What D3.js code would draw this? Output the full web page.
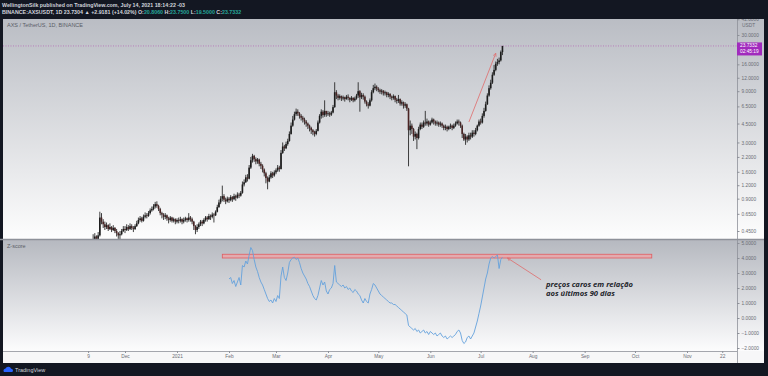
<!DOCTYPE html>
<html>
<head>
<meta charset="utf-8">
<script src="https://cdn.jsdelivr.net/npm/d3@7"></script>
<style>
  html, body { margin: 0; padding: 0; background: #131722; overflow: hidden; }
  svg { display: block; font-family: "Liberation Sans", Arial, sans-serif; }
</style>
</head>
<body>
<div id="container"></div>
<script>
// AXS/USDT daily candles, 2020-11-04 .. 2021-07-14
const firstDay = "2020-11-04";
const firstOpen = 0.33;

const closes = [
  // Nov
  0.30,0.27,0.26,0.28,0.29,0.31,0.33,0.34,0.36,0.40,0.38,0.41,0.60,0.55,0.52,0.49,0.51,0.47,0.49,0.46,0.48,0.45,0.43,0.41,0.42,0.45,0.47,
  // Dec
  0.46,0.49,0.47,0.50,0.48,0.47,0.50,0.53,0.57,0.59,0.56,0.61,0.63,0.62,0.66,0.70,0.72,0.76,0.80,0.77,0.72,0.66,0.64,0.61,0.63,0.59,0.57,0.60,0.56,0.58,0.55,
  // Jan
  0.57,0.56,0.58,0.55,0.57,0.59,0.57,0.60,0.58,0.55,0.50,0.46,0.49,0.52,0.55,0.53,0.57,0.60,0.58,0.62,0.61,0.64,0.63,0.68,0.75,0.83,0.90,0.95,0.88,0.85,0.90,
  // Feb
  0.87,0.93,0.89,0.95,0.92,0.98,0.96,1.02,1.22,1.28,1.42,1.38,1.75,2.05,2.25,2.10,2.00,2.08,1.90,1.82,1.68,1.55,1.40,1.30,1.42,1.55,1.48,1.58,
  // Mar
  1.65,1.75,1.70,2.40,2.75,2.65,2.90,3.10,3.60,4.30,4.90,5.50,5.80,5.60,5.30,5.10,4.90,4.70,4.50,4.30,4.10,3.90,3.75,3.60,3.85,4.60,5.30,5.80,5.40,5.90,5.50,
  // Apr
  5.60,5.45,5.70,6.40,8.80,8.20,7.80,8.10,7.70,7.90,7.60,8.00,7.80,7.50,7.80,7.40,7.70,8.20,9.00,7.90,8.30,8.00,7.20,6.80,6.60,7.40,8.80,9.60,9.90,9.50,
  // May
  9.20,8.90,9.10,8.60,8.80,8.30,8.50,8.00,7.80,8.10,7.50,7.30,7.60,6.90,7.10,6.60,6.80,6.20,3.90,4.30,4.00,3.40,3.60,3.30,4.00,4.40,4.20,4.60,4.50,4.70,4.40,
  // Jun
  4.60,4.90,4.70,4.50,4.60,4.40,4.50,4.30,4.10,4.20,4.00,4.20,4.30,4.10,4.30,4.50,4.70,4.60,4.30,3.60,3.20,3.40,3.20,3.50,3.40,3.70,3.60,3.90,4.30,4.70,
  // Jul
  4.60,5.30,5.90,6.80,8.20,9.60,10.80,12.80,14.20,16.20,16.80,17.40,20.806,23.7332
];

const highs = [
  0.34,0.31,0.29,0.30,0.31,0.33,0.36,0.37,0.42,0.43,0.41,0.44,0.68,0.66,0.58,0.55,0.54,0.52,0.53,0.50,0.51,0.49,0.47,0.44,0.45,0.47,0.50,
  0.50,0.52,0.51,0.53,0.52,0.50,0.52,0.56,0.60,0.62,0.61,0.64,0.67,0.66,0.69,0.73,0.76,0.80,0.84,0.85,0.79,0.74,0.68,0.66,0.66,0.64,0.61,0.62,0.61,0.60,0.59,
  0.59,0.60,0.61,0.59,0.60,0.61,0.60,0.66,0.62,0.60,0.56,0.51,0.52,0.54,0.57,0.57,0.59,0.62,0.62,0.65,0.64,0.67,0.66,0.70,0.79,0.88,0.95,1.19,0.99,0.92,0.94,
  0.93,0.97,0.95,1.00,0.98,1.03,1.02,1.06,1.30,1.36,1.50,1.52,1.85,2.20,2.35,2.30,2.18,2.15,2.12,1.98,1.88,1.72,1.60,1.45,1.50,1.62,1.60,1.65,
  1.72,1.85,1.82,2.55,3.00,2.85,3.05,3.25,3.80,4.60,5.30,5.80,6.20,6.10,5.75,5.50,5.30,5.10,4.85,4.60,4.40,4.20,4.00,3.85,4.00,4.80,5.50,6.10,6.00,7.40,5.90,
  5.90,5.80,5.90,6.70,10.90,9.20,8.50,8.40,8.20,8.20,8.00,8.30,8.40,7.90,8.10,7.90,8.00,8.50,10.90,9.20,8.70,8.60,8.20,7.40,7.10,7.70,9.20,10.30,10.60,10.20,
  9.80,9.50,9.40,9.20,9.10,8.90,8.80,8.60,8.20,8.40,8.20,7.80,8.30,7.70,7.40,7.20,7.10,6.90,6.30,4.80,4.50,4.10,3.80,3.70,4.20,4.60,4.60,4.80,5.90,5.00,4.80,
  4.80,5.10,5.00,4.80,4.80,4.70,4.70,4.60,4.40,4.40,4.30,4.30,4.50,4.40,4.50,4.70,4.90,4.90,4.70,4.40,3.70,3.60,3.50,3.70,3.70,3.90,3.90,4.10,4.40,4.90,
  5.00,5.60,6.30,7.20,8.60,10.20,11.50,13.50,15.80,17.00,18.00,18.50,21.50,23.75
];

const lows = [
  0.25,0.24,0.23,0.25,0.27,0.28,0.30,0.32,0.33,0.35,0.36,0.37,0.40,0.52,0.48,0.46,0.47,0.45,0.46,0.44,0.45,0.43,0.40,0.38,0.37,0.41,0.44,
  0.43,0.45,0.45,0.46,0.46,0.44,0.46,0.49,0.52,0.55,0.54,0.55,0.59,0.59,0.61,0.64,0.68,0.70,0.73,0.74,0.69,0.63,0.59,0.57,0.58,0.56,0.53,0.55,0.54,0.54,0.52,
  0.53,0.53,0.54,0.52,0.53,0.55,0.54,0.55,0.55,0.52,0.46,0.42,0.44,0.47,0.50,0.50,0.52,0.55,0.55,0.57,0.57,0.59,0.54,0.62,0.67,0.74,0.80,0.85,0.84,0.80,0.83,
  0.82,0.85,0.84,0.87,0.86,0.90,0.91,0.94,1.00,1.17,1.26,1.30,1.36,1.70,1.95,1.98,1.88,1.90,1.80,1.70,1.58,1.45,1.25,1.10,1.28,1.38,1.40,1.44,
  1.52,1.60,1.60,1.68,2.35,2.50,2.60,2.80,3.05,3.55,4.20,4.80,5.30,5.30,5.00,4.80,4.60,4.40,4.20,4.00,3.80,3.60,3.50,3.40,3.50,3.80,4.50,5.00,5.10,5.20,5.20,
  5.30,5.20,5.30,5.60,6.30,7.60,7.40,7.50,7.30,7.40,7.20,7.50,7.40,7.10,7.30,7.10,7.20,7.50,7.80,5.80,7.60,7.50,6.90,6.50,6.20,6.50,7.20,8.60,9.20,9.00,
  8.80,8.50,8.40,8.20,8.20,7.90,7.90,7.60,7.40,7.50,7.10,6.90,7.00,6.60,6.60,6.20,6.30,5.90,1.80,3.50,3.60,3.10,3.20,2.60,3.20,3.90,4.00,4.10,4.30,4.30,4.20,
  4.30,4.50,4.40,4.30,4.30,4.20,4.20,4.10,3.90,3.90,3.80,3.90,4.00,3.90,4.00,4.20,4.40,4.30,4.10,3.30,3.10,2.85,3.00,3.10,3.20,3.30,3.40,3.50,3.80,4.20,
  4.40,4.50,5.10,5.80,6.70,8.00,9.30,10.50,12.50,13.80,15.50,16.00,17.00,19.50
];

// 90 day z-score, one value per day from 2021-02-01
const zStart = "2021-02-01";
const zScores = [
  2.6,2.7,2.3,2.5,2.1,2.4,2.7,2.2,3.5,3.4,3.8,3.6,4.2,4.7,4.5,3.9,3.4,3.1,2.7,2.4,2.2,1.9,1.6,1.3,1.1,1.2,1.0,1.3,
  1.1,1.5,1.3,2.8,3.4,2.7,2.5,3.0,3.7,3.9,4.0,4.05,3.9,4.0,3.7,3.3,3.0,2.8,2.6,2.3,2.1,1.8,1.5,1.3,1.2,1.5,2.0,2.5,2.2,2.4,1.8,
  1.6,1.9,2.0,2.3,3.5,2.4,2.3,2.2,2.1,2.2,2.0,2.1,1.9,2.0,1.8,1.7,1.9,1.8,1.6,1.5,1.2,1.0,1.3,1.1,1.0,1.6,1.9,2.3,2.2,2.0,
  1.8,1.6,1.5,1.4,1.3,1.2,1.1,1.0,1.0,0.9,0.9,0.8,0.7,0.6,0.5,0.4,0.3,0.2,-0.5,-0.6,-0.7,-0.8,-0.7,-0.9,-0.8,-1.0,-0.9,-0.8,-1.0,-0.9,-1.1,
  -0.9,-1.0,-1.1,-1.0,-1.2,-1.1,-1.0,-1.2,-1.3,-1.2,-1.4,-1.3,-1.2,-1.3,-1.2,-1.1,-0.9,-0.8,-1.0,-1.5,-1.7,-1.6,-1.3,-1.2,-1.4,-1.2,-1.0,-0.6,-0.2,0.3,
  0.8,1.4,2.0,2.6,3.0,3.6,4.0,4.1,4.0,4.1,4.2,3.3,3.9,4.05
];

const priceTicks = [42, 30, 16, 12, 9, 6.5, 4.5, 3, 2.2, 1.6, 1.2, 0.9, 0.65, 0.45];
const zTicks = [5, 4, 3, 2, 1, 0, -1, -2];
const timeTickDates = ["2020-11-09","2020-12-01","2021-01-01","2021-02-01","2021-03-01","2021-04-01",
  "2021-05-01","2021-06-01","2021-07-01","2021-08-01","2021-09-01","2021-10-01","2021-11-01","2021-11-22"];
const timeTickLabels = ["9","Dec","2021","Feb","Mar","Apr","May","Jun","Jul","Aug","Sep","Oct","Nov","22"];

// annotations (date, value)
const lastPrice = 23.7332;
const priceArrow = [["2021-06-24", 4.65], ["2021-07-10", 20.3]];
const zBand = [["2021-01-28", 4.0], ["2021-10-11", 4.25]];
const zArrow = [["2021-08-06", 2.55], ["2021-07-17", 4.0]];
const noteAt = ["2021-08-09", 2.1];
const noteLines = ["preços caros em relação", "aos últimos 90 dias"];

// layout
const w = 768;
const h = 376;
const left = 3;
const plotRight = 737;
const axisRight = 764;
const mainTop = 19;
const mainBottom = 239;
const subTop = 240;
const subBottom = 351;
const timeBottom = 363;

const parseDay = d3.timeParse("%Y-%m-%d");

const svg = d3.select("#container").append("svg")
  .attr("width", w)
  .attr("height", h);

const defs = svg.append("defs");

function grad(id, top, bottom) {
  const g = defs.append("linearGradient").attr("id", id)
    .attr("x1", 0).attr("y1", 0).attr("x2", 0).attr("y2", 1);
  g.append("stop").attr("offset", "0%").attr("stop-color", top);
  g.append("stop").attr("offset", "100%").attr("stop-color", bottom);
}
grad("mainBg", "#babdc4", "#fdfdfd");
grad("subBg", "#b6b9c0", "#fcfcfd");

function clip(id, x, y, cw, ch) {
  defs.append("clipPath").attr("id", id)
    .append("rect").attr("x", x).attr("y", y).attr("width", cw).attr("height", ch);
}
clip("mainClip", left, mainTop, plotRight - left, mainBottom - mainTop);
clip("subClip", left, subTop, plotRight - left, subBottom - subTop);
clip("mainAxisClip", plotRight, mainTop, axisRight - plotRight, mainBottom - mainTop);

// backgrounds
svg.append("rect").attr("x", left).attr("y", mainTop)
  .attr("width", axisRight - left).attr("height", mainBottom - mainTop)
  .attr("fill", "url(#mainBg)");
svg.append("rect").attr("x", left).attr("y", subTop)
  .attr("width", axisRight - left).attr("height", subBottom - subTop)
  .attr("fill", "url(#subBg)");
svg.append("rect").attr("x", left).attr("y", subBottom)
  .attr("width", axisRight - left).attr("height", timeBottom - subBottom)
  .attr("fill", "#f7f7f8");

// scales
const xScale = d3.scaleTime()
  .domain([parseDay("2020-12-01"), parseDay("2021-11-01")])
  .range([125, 687]);
const yScale = d3.scaleLog().domain([0.45, 30]).range([231, 35]);
const zScale = d3.scaleLinear().domain([-2, 4]).range([348, 258]);

// candles
const day0 = parseDay(firstDay);
const candles = closes.map((c, i) => ({
  date: d3.timeDay.offset(day0, i),
  open: i === 0 ? firstOpen : closes[i - 1],
  high: highs[i],
  low: lows[i],
  close: c
}));

const main = svg.append("g").attr("clip-path", "url(#mainClip)");

main.append("line")
  .attr("x1", left).attr("x2", plotRight)
  .attr("y1", yScale(lastPrice)).attr("y2", yScale(lastPrice))
  .attr("stroke", "#b455b4").attr("stroke-width", 0.8)
  .attr("stroke-dasharray", "1,1.5").attr("opacity", 0.8);

const cg = main.selectAll("g.candle").data(candles).enter().append("g").attr("class", "candle");

cg.append("line")
  .attr("x1", d => xScale(d.date)).attr("x2", d => xScale(d.date))
  .attr("y1", d => yScale(Math.max(d.high, d.open, d.close)))
  .attr("y2", d => yScale(Math.min(d.low, d.open, d.close)))
  .attr("stroke", "#2a2a2a").attr("stroke-width", 0.9);

cg.append("rect")
  .attr("x", d => xScale(d.date) - 0.8)
  .attr("width", 1.6)
  .attr("y", d => yScale(Math.max(d.open, d.close)))
  .attr("height", d => Math.max(0.8, Math.abs(yScale(d.open) - yScale(d.close))))
  .attr("fill", d => d.close >= d.open ? "#1c1c1c" : "#4a2424");

// red arrow on the price pane
const pa = priceArrow.map(p => [xScale(parseDay(p[0])), yScale(p[1])]);
defs.append("marker").attr("id", "head")
  .attr("viewBox", "0 0 10 10").attr("refX", 9).attr("refY", 5)
  .attr("markerWidth", 5).attr("markerHeight", 5).attr("orient", "auto")
  .append("path").attr("d", "M1,1 L9,5 L1,9").attr("fill", "none")
  .attr("stroke", "#e06b6b").attr("stroke-width", 1.5);

main.append("line")
  .attr("x1", pa[0][0]).attr("y1", pa[0][1])
  .attr("x2", pa[1][0]).attr("y2", pa[1][1])
  .attr("stroke", "#e06b6b").attr("stroke-width", 0.8)
  .attr("marker-end", "url(#head)");

main.append("text")
  .attr("x", left + 4).attr("y", mainTop + 8)
  .attr("font-size", 5.5).attr("fill", "#5a5d66")
  .text("AXS / TetherUS, 1D, BINANCE");

// z-score pane
const sub = svg.append("g").attr("clip-path", "url(#subClip)");
const zBase = parseDay(zStart);
const zData = zScores.map((v, i) => ({ date: d3.timeDay.offset(zBase, i), z: v }));

sub.append("rect")
  .attr("x", xScale(parseDay(zBand[0][0])))
  .attr("width", xScale(parseDay(zBand[1][0])) - xScale(parseDay(zBand[0][0])))
  .attr("y", zScale(zBand[1][1]))
  .attr("height", zScale(zBand[0][1]) - zScale(zBand[1][1]))
  .attr("fill", "#eda3a5").attr("fill-opacity", 0.75)
  .attr("stroke", "#e05c60").attr("stroke-width", 0.8);

sub.append("path")
  .datum(zData)
  .attr("fill", "none")
  .attr("stroke", "#64a2dc")
  .attr("stroke-width", 0.9)
  .attr("d", d3.line().x(d => xScale(d.date)).y(d => zScale(d.z)));

const za = zArrow.map(p => [xScale(parseDay(p[0])), zScale(p[1])]);
sub.append("line")
  .attr("x1", za[0][0]).attr("y1", za[0][1])
  .attr("x2", za[1][0]).attr("y2", za[1][1])
  .attr("stroke", "#e06b6b").attr("stroke-width", 0.8)
  .attr("marker-end", "url(#head)");

// note, one text per line
sub.selectAll("text.note").data(noteLines).enter().append("text")
  .attr("class", "note")
  .attr("x", xScale(parseDay(noteAt[0])))
  .attr("y", (d, i) => zScale(noteAt[1]) + i * 9.5)
  .attr("font-family", "'Open Sans', sans-serif")
  .attr("font-style", "italic").attr("font-weight", "bold")
  .attr("font-size", 7.6).attr("fill", "#23252b")
  .text(d => d);

sub.append("text")
  .attr("x", left + 4).attr("y", subTop + 8)
  .attr("font-size", 5.5).attr("fill", "#5a5d66")
  .text("Z-score");

// separators
svg.append("line").attr("x1", 0).attr("x2", axisRight)
  .attr("y1", mainBottom + 0.5).attr("y2", mainBottom + 0.5)
  .attr("stroke", "#8e9199").attr("stroke-width", 1.5);
svg.append("line").attr("x1", plotRight + 0.5).attr("x2", plotRight + 0.5)
  .attr("y1", mainTop).attr("y2", timeBottom)
  .attr("stroke", "#8e9199").attr("stroke-width", 0.8);

// price axis
const yAxis = d3.axisRight(yScale)
  .tickValues(priceTicks)
  .tickFormat(d3.format(".4f"))
  .tickSize(2.5).tickPadding(2);
svg.append("g").attr("clip-path", "url(#mainAxisClip)")
  .append("g").attr("class", "axis")
  .attr("transform", `translate(${plotRight}, 0)`)
  .call(yAxis);

svg.append("text")
  .attr("x", plotRight + 5).attr("y", 27)
  .attr("font-size", 4.8).attr("fill", "#6a6d75")
  .text("USDT");

const zAxis = d3.axisRight(zScale)
  .tickValues(zTicks)
  .tickFormat(d3.format(".4f"))
  .tickSize(2.5).tickPadding(2);
svg.append("g").attr("class", "axis")
  .attr("transform", `translate(${plotRight}, 0)`)
  .call(zAxis);

// time axis
const xAxis = d3.axisBottom(xScale)
  .tickValues(timeTickDates.map(parseDay))
  .tickFormat((d, i) => timeTickLabels[i])
  .tickSize(2).tickPadding(2);
svg.append("g").attr("class", "axis")
  .attr("transform", `translate(0, ${subBottom})`)
  .call(xAxis);

svg.append("line").attr("x1", left).attr("x2", plotRight)
  .attr("y1", subBottom + 0.5).attr("y2", subBottom + 0.5)
  .attr("stroke", "#8e9199").attr("stroke-width", 0.8);

svg.selectAll(".axis .domain").remove();
svg.selectAll(".axis text").attr("font-size", 4.8).attr("fill", "#6a6d75");
svg.selectAll(".axis line").attr("stroke", "#8e9199");

// last price label
const lp = yScale(lastPrice);
svg.append("rect")
  .attr("x", plotRight).attr("y", lp - 3.5)
  .attr("width", axisRight - plotRight - 2).attr("height", 13)
  .attr("fill", "#a12bbd");
svg.append("text").attr("x", plotRight + 3).attr("y", lp + 1.5)
  .attr("font-size", 4.8).attr("fill", "#ffffff").text("23.7332");
svg.append("text").attr("x", plotRight + 3).attr("y", lp + 7.5)
  .attr("font-size", 4.8).attr("fill", "#ffffff").text("02:45:19");

// header
svg.append("text").attr("x", 2).attr("y", 6.5)
  .attr("font-size", 5.3).attr("font-weight", "bold").attr("fill", "#d1d4dc")
  .text("WellingtonSilk published on TradingView.com, July 14, 2021 18:14:22 -03");

const head2 = svg.append("text").attr("x", 2).attr("y", 14)
  .attr("font-size", 5.3).attr("font-weight", "bold").attr("fill", "#d1d4dc");
const head2Parts = [
  ["BINANCE:AXSUSDT, 1D ", "#d1d4dc"], ["23.7304 \u25B2 +2.9181 (+14.02%) ", "#d1d4dc"],
  ["O:", "#d1d4dc"], ["20.8060 ", "#26a69a"], ["H:", "#d1d4dc"], ["23.7500 ", "#26a69a"],
  ["L:", "#d1d4dc"], ["19.5000 ", "#26a69a"], ["C:", "#d1d4dc"], ["23.7332", "#26a69a"]
];
head2.selectAll("tspan").data(head2Parts).enter().append("tspan")
  .attr("fill", d => d[1]).text(d => d[0]);

// footer logo
svg.append("path")
  .attr("d", "M4,372 a2.2,2.2 0 0 1 1.5,-3.6 a3,3 0 0 1 5.6,0.4 a1.8,1.8 0 0 1 1.2,3.2 Z")
  .attr("fill", "#2962ff");
svg.append("text").attr("x", 15).attr("y", 372)
  .attr("font-size", 5.5).attr("fill", "#d1d4dc")
  .text("TradingView");
</script>
</body>
</html>
